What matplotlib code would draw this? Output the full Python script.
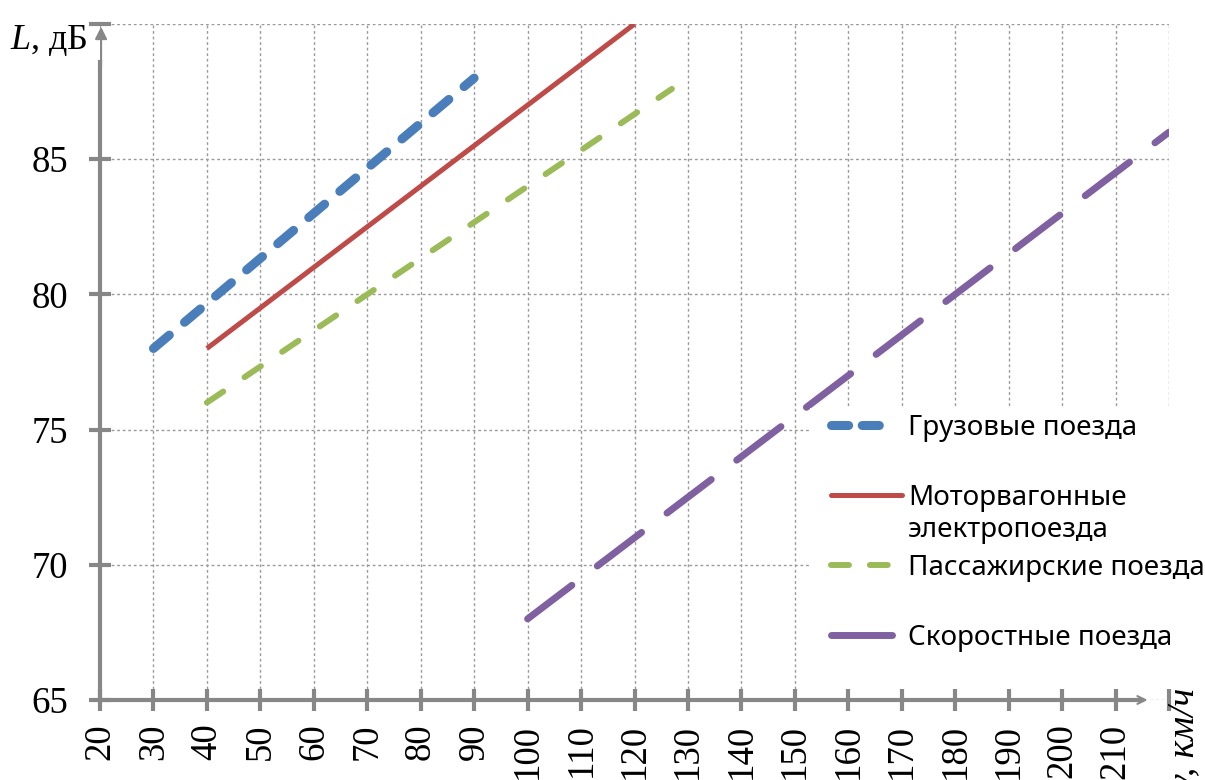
import numpy as np
import matplotlib.pyplot as plt
from matplotlib.lines import Line2D
from matplotlib.patches import Rectangle

plt.rcParams['font.family'] = ['Liberation Serif', 'DejaVu Serif']
plt.rcParams['mathtext.fontset'] = 'custom'
plt.rcParams['mathtext.it'] = 'Liberation Serif:italic'
plt.rcParams['mathtext.rm'] = 'Liberation Serif'

# data (speed km/h -> noise level dB)
freight_x = [30, 90]
freight_y = [78, 88]
emu_x = [40, 120]
emu_y = [78, 90]
passenger_x = [40, 127]
passenger_y = [76, 87.6]
highspeed_x = [100, 220]
highspeed_y = [68, 86]

names = ['Грузовые поезда', 'Моторвагонные\nэлектропоезда',
         'Пассажирские поезда', 'Скоростные поезда']
colors = ['#4A7EBB', '#BE4B48', '#9BBB59', '#7F60A0']

x_ticks = list(range(20, 230, 10))
y_ticks = [65, 70, 75, 80, 85, 90]

W, H = 1205, 780
def fx(px):
    return px / W
def fy(py):
    return 1 - py / H

fig = plt.figure(figsize=(W / 100, H / 100), dpi=100)
ax = fig.add_axes([fx(100), fy(700), (1169 - 100) / W, (700 - 24) / H])
ax.set_axisbelow(True)

series = [(freight_x, freight_y), (emu_x, emu_y),
          (passenger_x, passenger_y), (highspeed_x, highspeed_y)]
widths = [6.5, 3.6, 4.3, 5.0]
dashes = [(2.3, 2.2), None, (3.3, 4.3), (8.0, 4.6)]

for (xs, ys), c, lw, d in zip(series, colors, widths, dashes):
    ln, = ax.plot(xs, ys, color=c, lw=lw, solid_capstyle='butt', zorder=3)
    if d is not None:
        ln.set_dashes(d)
        ln.set_dash_capstyle('round')

ax.set_xlim(20, 220)
ax.set_ylim(65, 90)
ax.set_xticks(x_ticks)
ax.set_xticklabels([str(v) if v < 220 else '' for v in x_ticks], rotation=90)
ax.set_yticks(y_ticks)
ax.set_yticklabels([str(v) if v < 90 else '' for v in y_ticks])

ax.grid(True, color='#9a9a9a', linestyle=(0, (2, 2)), lw=1)
for s in ['top', 'right']:
    ax.spines[s].set_visible(False)
for s in ['left', 'bottom']:
    ax.spines[s].set_color('#878787')
    ax.spines[s].set_linewidth(3)
ax.spines['bottom'].set_bounds(20, 215)
ax.spines['left'].set_bounds(65, 88.6)

ax.tick_params(axis='both', direction='inout', length=16, width=3,
               color='#878787', labelsize=26.5, labelcolor='black')
ax.tick_params(axis='y', pad=15)
ax.tick_params(axis='x', pad=9)

# axis arrows
ax.annotate('', xy=(216.5, 65), xytext=(213, 65), xycoords='data',
            arrowprops=dict(arrowstyle='->', color='#878787', lw=1.5,
                            mutation_scale=14), annotation_clip=False)
ax.annotate('', xy=(20.2, 90), xytext=(20.2, 88.3), xycoords='data',
            arrowprops=dict(arrowstyle='-|>', color='#878787', lw=1.5,
                            mutation_scale=18), annotation_clip=False)

# cut-off top tick label and axis titles
fig.text(fx(67), fy(6), '90', ha='right', va='bottom', fontsize=26.5)
fig.text(fx(10), fy(40), r'$L$, дБ', ha='left', va='center', fontsize=26)
fig.text(fx(1184), fy(688), 'v, км/ч', rotation=90, ha='center', va='top',
         fontsize=27, style='italic')

# legend box
fig.patches.append(Rectangle((fx(810), fy(689)), fx(1205 - 810), (689 - 408) / H,
                             transform=fig.transFigure, facecolor='white',
                             edgecolor='none', zorder=1))
handle_y = [425, 495, 565, 635]
handle_dash = [(1.9, 1.5), None, (3.0, 3.5), None]
handle_w = [6.5, 3.6, 4.3, 5.0]
handle_x1 = [892, 902, 898, 892]
for name, c, hy, hd, hw, x1 in zip(names, colors, handle_y, handle_dash, handle_w, handle_x1):
    ln = Line2D([fx(831), fx(x1)], [fy(hy), fy(hy)], transform=fig.transFigure,
                color=c, lw=hw, solid_capstyle='round', zorder=4)
    if hd is not None:
        ln.set_dashes(hd)
        ln.set_dash_capstyle('round')
    fig.add_artist(ln)
    for i, part in enumerate(name.split('\n')):
        fig.text(fx(908), fy(hy + 10 + 32 * i), part, ha='left', va='baseline',
                 fontsize=20, family=['Noto Sans', 'DejaVu Sans'], zorder=5)

fig.savefig('out.png', dpi=100)
